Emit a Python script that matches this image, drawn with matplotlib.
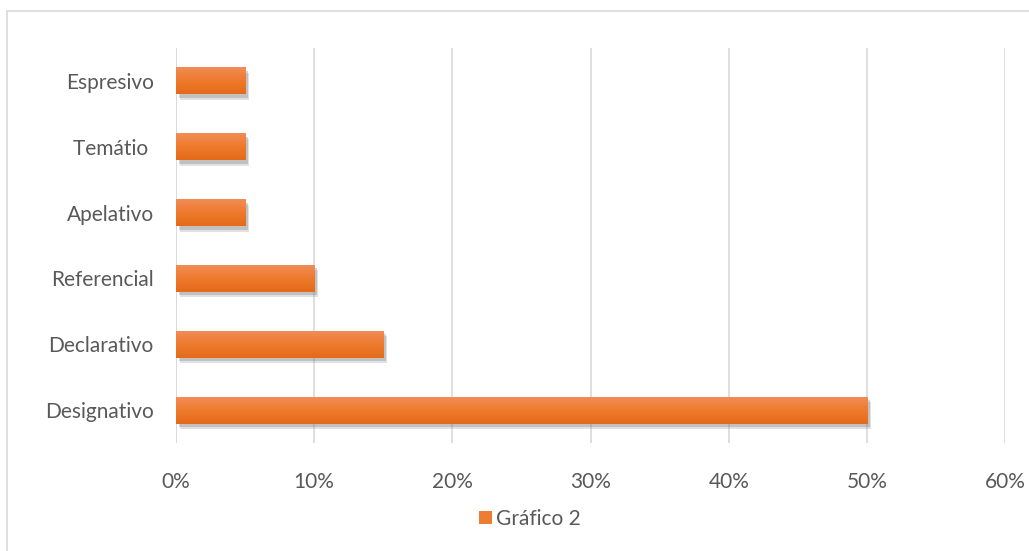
import matplotlib.pyplot as plt
import matplotlib.patheffects as pe
from matplotlib.patches import Rectangle
from matplotlib.colors import LinearSegmentedColormap
import numpy as np

categories = ['Designativo', 'Declarativo', 'Referencial', 'Apelativo', 'Temátio ', 'Espresivo']
values = [50, 15, 10, 5, 5, 5]
xticks = [0, 10, 20, 30, 40, 50, 60]
series_name = 'Gráfico 2'

plt.rcParams['font.family'] = ['Lato', 'DejaVu Sans']
text_color = '#595959'
fs = 15

fig = plt.figure(figsize=(10.29, 5.51), dpi=100)
ax = fig.add_axes([0.171, 0.196, 0.806, 0.717])

y = np.arange(len(categories))
shadow = [pe.SimplePatchShadow(offset=(3, -4), shadow_rgbFace='#888888', alpha=0.25),
          pe.SimplePatchShadow(offset=(2, -2.5), shadow_rgbFace='#777777', alpha=0.3),
          pe.Normal()]
bars = ax.barh(y, values, height=0.41, color='#ED7D31', zorder=3, label=series_name,
               path_effects=shadow)

# vertical gradient on each bar, lighter on top
grad = np.linspace(0, 1, 64).reshape(-1, 1)
cmap = LinearSegmentedColormap.from_list('o', ['#E56A1A', '#EE7A2C', '#F28C55'])
for b in bars:
    x0, y0 = b.get_x(), b.get_y()
    w, h = b.get_width(), b.get_height()
    im = ax.imshow(grad, cmap=cmap, aspect='auto', extent=(x0, x0 + w, y0, y0 + h),
                   zorder=4, origin='lower')
    im.set_clip_path(b)

ax.set_xlim(0, 60)
ax.set_ylim(-0.5, len(categories) - 0.5)
ax.set_yticks(y)
ax.set_yticklabels(categories)
ax.set_xticks(xticks)
ax.set_xticklabels([f'{t}%' for t in xticks])
ax.tick_params(axis='both', length=0, colors=text_color, labelsize=fs)
ax.tick_params(axis='x', pad=21)
ax.tick_params(axis='y', pad=16)
ax.grid(axis='x', color='#D9D9D9', linewidth=1.2, zorder=0)
for s in ax.spines.values():
    s.set_visible(False)
ax.axvline(0, color='#D9D9D9', linewidth=1.2, zorder=1)

leg = fig.legend(handles=[bars], labels=[series_name], loc='center', bbox_to_anchor=(0.515, 0.058),
                 frameon=False, fontsize=fs, handlelength=0.6, handleheight=0.6, handletextpad=0.2)
for t in leg.get_texts():
    t.set_color(text_color)
for h in leg.legend_handles:
    h.set_path_effects([])

fig.patches.append(Rectangle((7 / 1029, -0.01), 1.02, 1 - 11 / 551 + 0.01, transform=fig.transFigure,
                             fill=False, edgecolor='#D9D9D9', linewidth=1.2))

fig.savefig('out.png', dpi=100)
